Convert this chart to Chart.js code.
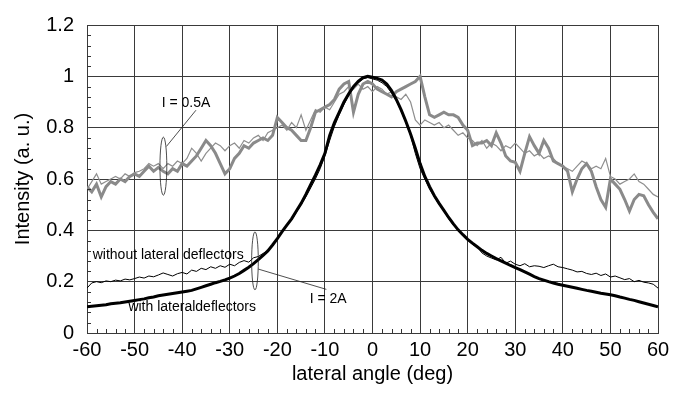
<!DOCTYPE html>
<html><head><meta charset="utf-8">
<script src="https://cdn.jsdelivr.net/npm/chart.js@4"></script>
<style>html,body{margin:0;padding:0;background:#fff}</style>
</head><body>
<canvas id="c" width="681" height="394"></canvas>
<script>
// lateral angle (deg)
const angles = [
-60,-59,-58,-57,-56,-55,-54,-53,-52,-51,
-50,-49,-48,-47,-46,-45,-44,-43,-42,-41,
-40,-39,-38,-37,-36,-35,-34,-33,-32,-31,
-30,-29,-28,-27,-26,-25,-24,-23,-22,-21,
-20,-19,-18,-17,-16,-15,-14,-13,-12,-11,
-10,-9,-8,-7,-6,-5,-4,-3,-2,-1,
0,1,2,3,4,5,6,7,8,9,
10,11,12,13,14,15,16,17,18,19,
20,21,22,23,24,25,26,27,28,29,
30,31,32,33,34,35,36,37,38,39,
40,41,42,43,44,45,46,47,48,49,
50,51,52,53,54,55,56,57,58,59,60];

// I = 0.5A, thick grey trace
const grey05Thick = [
0.57,0.55,0.58,0.53,0.57,0.59,0.58,0.60,0.59,0.61,
0.62,0.61,0.63,0.65,0.63,0.645,0.63,0.62,0.64,0.63,
0.66,0.65,0.67,0.69,0.72,0.75,0.73,0.70,0.66,0.62,
0.64,0.68,0.70,0.73,0.72,0.74,0.75,0.76,0.75,0.77,
0.84,0.82,0.80,0.79,0.77,0.75,0.75,0.80,0.86,0.87,
0.88,0.89,0.91,0.95,0.97,0.98,0.86,0.93,0.97,0.98,
0.97,0.95,0.94,0.93,0.92,0.94,0.95,0.96,0.97,0.98,
1.0,0.92,0.85,0.84,0.85,0.86,0.85,0.85,0.84,0.81,
0.79,0.73,0.74,0.74,0.75,0.73,0.78,0.74,0.69,0.67,
0.665,0.63,0.70,0.765,0.73,0.70,0.75,0.72,0.67,0.66,
0.65,0.63,0.55,0.60,0.64,0.66,0.63,0.57,0.52,0.49,
0.60,0.58,0.56,0.52,0.475,0.52,0.54,0.535,0.50,0.47,0.445];

// I = 0.5A, thin grey trace
const grey05Thin = [
0.56,0.59,0.62,0.58,0.59,0.60,0.61,0.60,0.62,0.61,
0.625,0.63,0.64,0.66,0.65,0.66,0.64,0.66,0.65,0.67,
0.66,0.68,0.72,0.70,0.67,0.70,0.72,0.74,0.73,0.71,
0.73,0.74,0.72,0.75,0.74,0.76,0.77,0.75,0.78,0.79,
0.80,0.81,0.79,0.82,0.80,0.85,0.79,0.83,0.87,0.86,
0.88,0.87,0.90,0.93,0.94,0.96,0.95,0.97,0.95,0.96,
0.94,0.96,0.95,0.93,0.94,0.92,0.91,0.93,0.90,0.83,
0.81,0.83,0.82,0.81,0.82,0.80,0.81,0.79,0.77,0.78,
0.76,0.75,0.73,0.75,0.72,0.74,0.73,0.71,0.73,0.72,
0.74,0.72,0.70,0.71,0.69,0.70,0.68,0.69,0.68,0.66,
0.65,0.64,0.63,0.65,0.67,0.66,0.64,0.65,0.64,0.68,
0.61,0.60,0.58,0.59,0.60,0.62,0.59,0.58,0.56,0.54,0.53];

// I = 2A, with lateral deflectors (thick black)
const withDeflectors = [
0.102,0.104,0.106,0.108,0.110,0.114,0.116,0.118,0.121,0.124,
0.127,0.130,0.133,0.137,0.140,0.145,0.148,0.151,0.154,0.157,
0.160,0.163,0.166,0.172,0.178,0.184,0.190,0.196,0.201,0.207,
0.214,0.222,0.232,0.244,0.256,0.270,0.286,0.302,0.320,0.343,
0.368,0.395,0.420,0.445,0.475,0.505,0.540,0.578,0.615,0.655,
0.700,0.770,0.820,0.860,0.900,0.932,0.960,0.980,0.995,1.0,
0.997,0.992,0.985,0.970,0.945,0.910,0.870,0.825,0.775,0.720,
0.660,0.610,0.570,0.535,0.505,0.478,0.450,0.425,0.402,0.383,
0.365,0.350,0.336,0.322,0.310,0.300,0.290,0.281,0.272,0.263,
0.255,0.247,0.238,0.229,0.220,0.212,0.206,0.200,0.195,0.190,
0.186,0.182,0.178,0.174,0.170,0.166,0.163,0.159,0.155,0.152,
0.149,0.145,0.140,0.136,0.131,0.127,0.122,0.117,0.112,0.107,0.102];

// I = 2A, without lateral deflectors (thin black)
const withoutDeflectors = [
0.175,0.195,0.200,0.196,0.203,0.200,0.206,0.203,0.210,0.207,
0.212,0.218,0.214,0.222,0.219,0.226,0.234,0.228,0.222,0.231,
0.236,0.230,0.245,0.240,0.252,0.247,0.258,0.252,0.262,0.256,
0.268,0.262,0.275,0.282,0.276,0.293,0.298,0.310,0.320,0.338,
0.370,0.398,0.418,0.440,0.470,0.500,0.530,0.565,0.600,0.640,
0.690,0.750,0.805,0.850,0.890,0.925,0.955,0.975,0.990,0.995,
0.990,0.985,0.975,0.960,0.935,0.905,0.865,0.820,0.770,0.700,
0.640,0.600,0.560,0.530,0.500,0.475,0.445,0.420,0.400,0.380,
0.362,0.345,0.335,0.312,0.300,0.292,0.285,0.295,0.272,0.280,
0.268,0.262,0.270,0.258,0.262,0.260,0.255,0.262,0.268,0.258,
0.255,0.250,0.245,0.238,0.240,0.232,0.228,0.233,0.224,0.230,
0.218,0.222,0.215,0.208,0.212,0.200,0.205,0.198,0.195,0.190,0.175];

const xTickLabels = ['-60','-50','-40','-30','-20','-10','0','10','20','30','40','50','60'];
const yTickLabels = ['0','0.2','0.4','0.6','0.8','1','1.2'];

const FONT = "'Liberation Sans', Arial, sans-serif";

function pts(vals){ return angles.map((a,i)=>({x:a,y:vals[i]})); }

// annotations in data coordinates
const notes = {
  texts: [
    {t:'I = 0.5A', x:-44.3, y:0.897},
    {t:'without lateral deflectors', x:-58.8, y:0.305},
    {t:'with lateraldeflectors', x:-51.3, y:0.102},
    {t:'I = 2A', x:-13.2, y:0.133}
  ],
  ellipses: [
    {x:-43.95, y:0.65, rxDeg:0.72, ryVal:0.113},
    {x:-24.7, y:0.281, rxDeg:0.70, ryVal:0.113}
  ],
  lines: [
    {x1:-43.3, y1:0.727, x2:-37.1, y2:0.868},
    {x1:-24.0, y1:0.249, x2:-9.7, y2:0.170}
  ]
};

const decor = {
  id:'decor',
  afterDatasetsDraw(chart){
    const {ctx, scales:{x,y}, chartArea:a} = chart;
    ctx.save();
    // minor ticks (inside)
    ctx.strokeStyle='#333'; ctx.lineWidth=1;
    for(let v=-58; v<60; v+=2){
      if(v%10===0) continue;
      const px=Math.round(x.getPixelForValue(v))+0.5;
      ctx.beginPath(); ctx.moveTo(px,a.bottom); ctx.lineTo(px,a.bottom-4); ctx.stroke();
    }
    for(let k=1;k<30;k++){
      if(k%5===0) continue;
      const py=Math.round(y.getPixelForValue(k*0.04))+0.5;
      ctx.beginPath(); ctx.moveTo(a.left,py); ctx.lineTo(a.left+4,py); ctx.stroke();
    }
    // leader lines and ellipses
    ctx.strokeStyle='#222'; ctx.lineWidth=0.8;
    for(const l of notes.lines){
      ctx.beginPath();
      ctx.moveTo(x.getPixelForValue(l.x1), y.getPixelForValue(l.y1));
      ctx.lineTo(x.getPixelForValue(l.x2), y.getPixelForValue(l.y2));
      ctx.stroke();
    }
    for(const e of notes.ellipses){
      const cx=x.getPixelForValue(e.x), cy=y.getPixelForValue(e.y);
      const rx=Math.abs(x.getPixelForValue(e.x+e.rxDeg)-cx);
      const ry=Math.abs(y.getPixelForValue(e.y+e.ryVal)-cy);
      ctx.beginPath(); ctx.ellipse(cx,cy,rx,ry,0,0,Math.PI*2); ctx.stroke();
    }
    ctx.fillStyle='#000';
    ctx.font="14px "+FONT;
    ctx.textBaseline='middle'; ctx.textAlign='left';
    for(const t of notes.texts){
      ctx.fillText(t.t, x.getPixelForValue(t.x), y.getPixelForValue(t.y));
    }
    ctx.restore();
  }
};

const GRID='#3a3a3a';
new Chart(document.getElementById('c'), {
  type:'line',
  data:{
    datasets:[
      {label:'with lateral deflectors', data:pts(withDeflectors), borderColor:'#000', borderWidth:3, pointRadius:0, tension:0},
      {label:'without lateral deflectors', data:pts(withoutDeflectors), borderColor:'#000', borderWidth:1, pointRadius:0, tension:0},
      {label:'I = 0.5A (a)', data:pts(grey05Thick), borderColor:'#8a8a8a', borderWidth:3, pointRadius:0, tension:0},
      {label:'I = 0.5A (b)', data:pts(grey05Thin), borderColor:'#8e8e8e', borderWidth:1.2, pointRadius:0, tension:0}
    ]
  },
  options:{
    responsive:false, animation:false,
    layout:{padding:{left:0, top:15, right:23, bottom:0}},
    plugins:{legend:{display:false}, tooltip:{enabled:false}},
    scales:{
      x:{type:'linear', min:-60, max:60,
        ticks:{stepSize:10, color:'#000', font:{family:FONT, size:20}, padding:5, maxRotation:0, autoSkip:false,
          callback:(v)=>{const i=xTickLabels.indexOf(String(v)); return i>=0?xTickLabels[i]:'';}},
        grid:{color:GRID, lineWidth:1, drawTicks:false},
        border:{color:GRID, width:1},
        title:{display:true, text:'lateral angle (deg)', color:'#000', font:{family:FONT, size:20}, padding:{top:0,bottom:8}},
        afterFit(s){ s.height=61; }
      },
      y:{min:0, max:1.2,
        ticks:{stepSize:0.2, color:'#000', font:{family:FONT, size:20}, padding:13,
          callback:(v)=>yTickLabels[Math.round(v/0.2)]},
        grid:{color:GRID, lineWidth:1, drawTicks:false},
        border:{color:GRID, width:1},
        title:{display:true, text:'Intensity (a. u.)', color:'#000', font:{family:FONT, size:20}, padding:{top:11,bottom:0}},
        afterFit(s){ s.width=87; }
      }
    }
  },
  plugins:[decor]
});
</script>
</body></html>
